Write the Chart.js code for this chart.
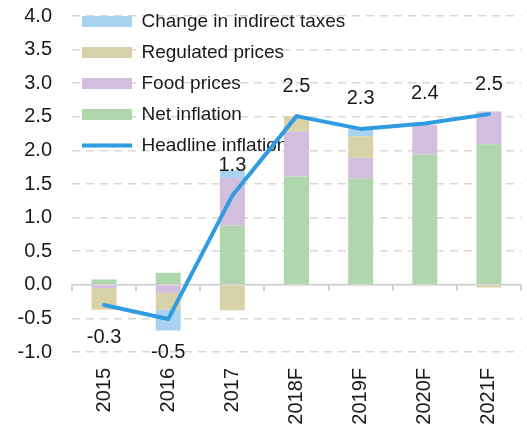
<!DOCTYPE html>
<html>
<head>
<meta charset="utf-8">
<script src="https://cdn.jsdelivr.net/npm/chart.js@4/dist/chart.umd.min.js"></script>
<style>
  body { margin: 0; background: #fff; }
  #wrap { width: 527px; height: 435px; position: relative; }
</style>
</head>
<body>
<div id="wrap"><canvas id="inflationChart"></canvas></div>
<script>
// Values
var years = ['2015', '2016', '2017', '2018F', '2019F', '2020F', '2021F'];
var netInflation = [0.08, 0.18, 0.88, 1.61, 1.58, 1.94, 2.09];
var foodPrices = [-0.05, -0.12, 0.71, 0.67, 0.31, 0.44, 0.49];
var regulatedPrices = [-0.32, -0.25, -0.38, 0.23, 0.32, 0, -0.04];
var indirectTaxes = [0, -0.31, 0.11, 0, 0.11, 0, 0];
var headline = [-0.3, -0.51, 1.33, 2.51, 2.32, 2.4, 2.54];
var headlineLabels = ['-0.3', '-0.5', '1.3', '2.5', '2.3', '2.4', '2.5'];

var FONT = '"Liberation Sans", Arial, sans-serif';
var TEXT = '#1a1a1a';

// legend order in the picture (by dataset index)
var legendRank = { 3: 0, 2: 1, 1: 2, 0: 3, 4: 4 };

// solid zero line with small tick marks between categories
var zeroAxis = {
  id: 'zeroAxis',
  beforeDatasetsDraw: function (chart) {
    var ctx = chart.ctx, area = chart.chartArea;
    var x = chart.scales.x, y0 = chart.scales.y.getPixelForValue(0);
    var n = years.length, step = (area.right - area.left) / n;
    ctx.save();
    ctx.strokeStyle = '#d3d3d3';
    ctx.lineWidth = 2;
    ctx.beginPath();
    ctx.moveTo(area.left, y0);
    ctx.lineTo(area.right, y0);
    for (var i = 0; i <= n; i++) {
      var xp = Math.round(x.left + i * step);
      ctx.moveTo(xp, y0);
      ctx.lineTo(xp, y0 + 6);
    }
    ctx.stroke();
    ctx.restore();
  }
};

// value labels above / below the headline line
var headlineValues = {
  id: 'headlineValues',
  afterDatasetsDraw: function (chart) {
    var ctx = chart.ctx;
    var meta = chart.getDatasetMeta(4);
    ctx.save();
    ctx.font = '20px ' + FONT;
    ctx.fillStyle = TEXT;
    ctx.textAlign = 'center';
    ctx.textBaseline = 'middle';
    meta.data.forEach(function (pt, i) {
      var dy = headline[i] < 0 ? 33 : -30;
      ctx.fillText(headlineLabels[i], pt.x, pt.y + dy);
    });
    ctx.restore();
  }
};

// pull the in-plot legend up to the top-left corner
var legendShift = {
  id: 'legendShift',
  afterLayout: function (chart) {
    if (chart.legend) {
      chart.legend.top = 0;
      chart.legend.left = 70;
    }
  }
};

var ctx = document.getElementById('inflationChart').getContext('2d');
var chart = new Chart(ctx, {
  type: 'bar',
  data: {
    labels: years,
    datasets: [
      { label: 'Net inflation', data: netInflation, backgroundColor: '#b0d6ae', pointStyle: 'rect' },
      { label: 'Food prices', data: foodPrices, backgroundColor: '#d4bedd', pointStyle: 'rect' },
      { label: 'Regulated prices', data: regulatedPrices, backgroundColor: '#d8d2a8', pointStyle: 'rect' },
      { label: 'Change in indirect taxes', data: indirectTaxes, backgroundColor: '#a9d2f0', pointStyle: 'rect' },
      {
        type: 'line',
        label: 'Headline inflation',
        data: headline,
        stack: 'headline',
        order: -1,
        borderColor: '#2f9be0',
        backgroundColor: '#2f9be0',
        borderWidth: 4,
        borderCapStyle: 'round',
        borderJoinStyle: 'round',
        pointRadius: 0,
        pointStyle: 'line',
        tension: 0
      }
    ]
  },
  options: {
    responsive: true,
    maintainAspectRatio: false,
    animation: false,
    datasets: {
      bar: { categoryPercentage: 1, barPercentage: 0.39, borderWidth: 0 }
    },
    layout: { padding: { top: 16, right: 6, left: 0, bottom: 0 } },
    scales: {
      x: {
        stacked: true,
        grid: { display: false },
        border: { display: false },
        ticks: {
          color: TEXT,
          font: { family: FONT, size: 20 },
          minRotation: 90,
          maxRotation: 90,
          padding: 8
        },
        afterFit: function (scale) { scale.height = 83; }
      },
      y: {
        stacked: true,
        min: -1,
        max: 4,
        border: { display: true, width: 0, dash: [8, 6] },
        grid: {
          color: function (c) { return c.tick && c.tick.value === 0 ? 'rgba(0,0,0,0)' : '#d8d8d8'; },
          lineWidth: 1.5,
          drawTicks: false
        },
        ticks: {
          stepSize: 0.5,
          color: TEXT,
          font: { family: FONT, size: 20 },
          padding: 20,
          callback: function (v) { return Number(v).toFixed(1); }
        },
        afterFit: function (scale) {
          scale.width = 72;
          scale.paddingTop = 0;
          scale.paddingBottom = 0;
        }
      }
    },
    plugins: {
      legend: {
        position: 'chartArea',
        align: 'start',
        labels: {
          usePointStyle: true,
          pointStyleWidth: 50,
          boxHeight: 11,
          padding: 12,
          color: TEXT,
          font: { family: FONT, size: 19 },
          sort: function (a, b) { return legendRank[a.datasetIndex] - legendRank[b.datasetIndex]; }
        }
      },
      tooltip: { enabled: false }
    }
  },
  plugins: [zeroAxis, headlineValues, legendShift]
});
</script>
</body>
</html>
